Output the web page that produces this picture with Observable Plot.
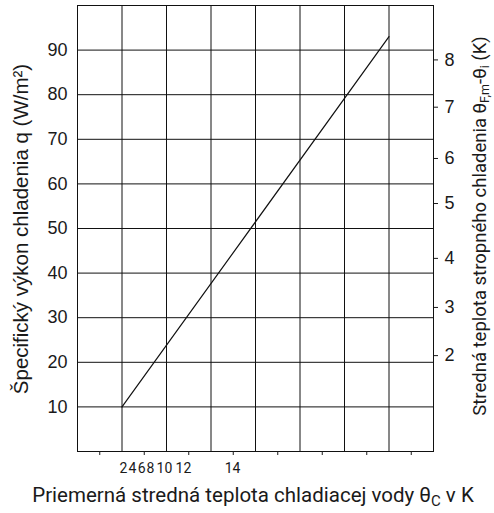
<!DOCTYPE html>
<html><head><meta charset="utf-8">
<script src="https://cdn.jsdelivr.net/npm/d3@7"></script>
<script src="https://cdn.jsdelivr.net/npm/@observablehq/plot@0.6"></script>
<style>body{margin:0;background:#fff}</style>
</head><body><div id="chart"></div>
<script>
// Data
const lineX = [2, 14];
const lineQ = [10, 93];
const gridX = [0, 2, 4, 6, 8, 10, 12, 14, 16];
const minorTicksX = [1, 3, 5, 7, 9, 11, 13, 15];
const leftTicks = [10, 20, 30, 40, 50, 60, 70, 80, 90];
const rightTickLabels = ["2", "3", "4", "5", "6", "7", "8"];
const rightTickQ = [21.5, 32.3, 43.3, 55.6, 65.7, 77.2, 87.8];
const bottomLabels = ["2", "4", "6", "8", "10", "12", "14"];
const bottomLabelX = [2.07, 2.47, 2.88, 3.28, 3.91, 4.76, 6.97];

const W = 494, H = 513;
const mL = 77, mR = 61, mT = 5, mB = 62;
const rightMap = new Map(rightTickQ.map((q, i) => [q, rightTickLabels[i]]));
const lineData = lineX.map((x, i) => ({x, q: lineQ[i]}));

const plot = Plot.plot({
  width: W, height: H,
  marginLeft: mL, marginRight: mR, marginTop: mT, marginBottom: mB,
  style: {fontFamily: "Liberation Sans, Arial, sans-serif", background: "#fff", color: "#1a1a1a"},
  x: {domain: [0, 16], axis: null},
  y: {domain: [0, 100], axis: null},
  marks: [
    Plot.gridX(gridX, {stroke: "#111", strokeOpacity: 1, strokeWidth: 1}),
    Plot.gridY(leftTicks, {stroke: "#111", strokeOpacity: 1, strokeWidth: 1}),
    Plot.frame({stroke: "#111", strokeWidth: 1}),
    Plot.axisY({ticks: leftTicks, tickSize: 0, tickPadding: 10, fontSize: 18, label: null, fontFamily: "Liberation Sans, Arial, sans-serif"}),
    Plot.axisY({anchor: "right", ticks: rightTickQ, tickSize: 4, tickPadding: 7, fontSize: 18, label: null,
      tickFormat: d => rightMap.get(d) ?? "", fontFamily: "Liberation Sans, Arial, sans-serif"}),
    Plot.axisX({ticks: minorTicksX, tickSize: 4, tickFormat: () => "", label: null}),
    Plot.text(bottomLabels, {x: (d, i) => bottomLabelX[i], text: d => d, frameAnchor: "bottom", lineAnchor: "middle", dy: 17,
      fontSize: 14, fontFamily: "Roboto, sans-serif", fill: "#1a1a1a"}),
    Plot.line(lineData, {x: "x", y: "q", stroke: "#111", strokeWidth: 1.2})
  ]
});

const svg = d3.select(plot);
// Left axis title
svg.append("text")
  .attr("transform", `translate(28,229) rotate(-90)`)
  .attr("text-anchor", "middle")
  .attr("font-family", "Liberation Sans, Arial, sans-serif")
  .attr("font-size", 20.5).attr("fill", "#1a1a1a")
  .text("Špecifický výkon chladenia q (W/m²)");

// Right axis title with subscripts
const rt = svg.append("text")
  .attr("transform", `translate(486,226) rotate(-90)`)
  .attr("text-anchor", "middle")
  .attr("font-family", "Roboto, sans-serif")
  .attr("font-size", 18.5).attr("fill", "#1a1a1a");
rt.append("tspan").text("Stredná teplota stropného chladenia θ");
rt.append("tspan").attr("font-size", 12.5).attr("dy", 3).text("F,m");
rt.append("tspan").attr("dy", -3).text("-θ");
rt.append("tspan").attr("font-size", 12.5).attr("dy", 3).text("i");
rt.append("tspan").attr("dy", -3).text(" (K)");

// Bottom title
const bt = svg.append("text")
  .attr("x", 253).attr("y", 502)
  .attr("text-anchor", "middle")
  .attr("font-family", "Roboto, sans-serif")
  .attr("font-size", 20.5).attr("fill", "#1a1a1a");
bt.append("tspan").text("Priemerná stredná teplota chladiacej vody θ");
bt.append("tspan").attr("font-size", 15).attr("dy", 4).text("C");
bt.append("tspan").attr("dy", -4).text(" v K");

document.getElementById("chart").appendChild(plot);
</script>
</body></html>
